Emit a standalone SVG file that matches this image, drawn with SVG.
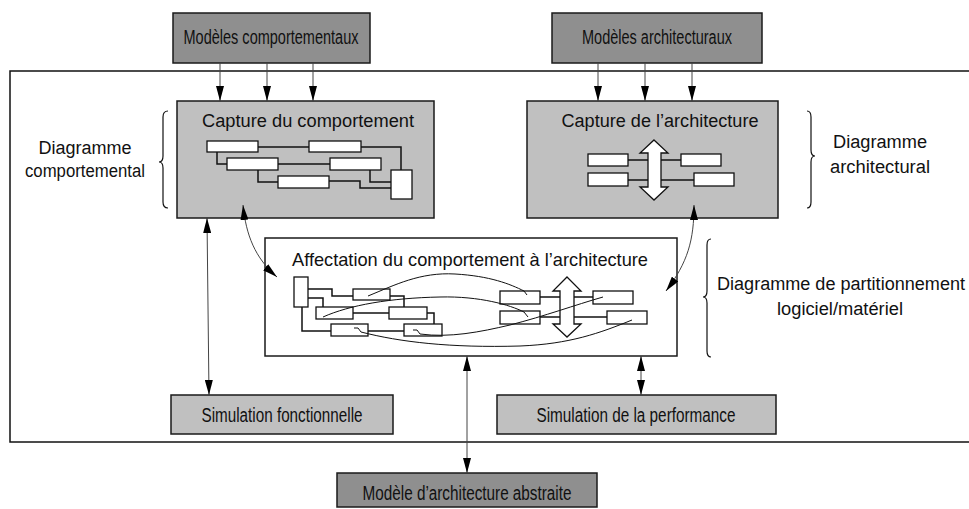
<svg xmlns="http://www.w3.org/2000/svg" width="969" height="509" viewBox="0 0 969 509">
<style>
text{font-family:"Liberation Sans",Arial,sans-serif;font-size:18px;fill:#111;text-anchor:middle}
.big{font-size:20px}
.dark{fill:#8f8f8f;stroke:#1a1a1a;stroke-width:1.5}
.light{fill:#c0c0c0;stroke:#1a1a1a;stroke-width:1.5}
.white{fill:#fff;stroke:#1a1a1a;stroke-width:1.5}
.sr{fill:#fff;stroke:#111;stroke-width:1.3}
.wire{fill:none;stroke:#111;stroke-width:1.5}
.thin{fill:none;stroke:#111;stroke-width:1}
.blk{fill:#fff;stroke:#111;stroke-width:1.3}
.conn{fill:none;stroke:#444;stroke-width:1}
.brace{fill:none;stroke:#111;stroke-width:1.2}
</style>
<defs>
<marker id="ah" markerUnits="userSpaceOnUse" markerWidth="15" markerHeight="8" refX="15" refY="4" orient="auto-start-reverse">
<path d="M0,0 L15,4 L0,8 z" fill="#000"/>
</marker>
</defs>
<rect x="10" y="71" width="970" height="371" fill="none" stroke="#111" stroke-width="1.5"/>
<g id="modeles-comportementaux">
<rect class="dark" x="173" y="13" width="197" height="50"/>
<text class="big" x="271" y="44" textLength="175" lengthAdjust="spacingAndGlyphs">Modèles comportementaux</text>
</g>
<g id="modeles-architecturaux">
<rect class="dark" x="552" y="13" width="210" height="50"/>
<text class="big" x="657" y="44" textLength="150" lengthAdjust="spacingAndGlyphs">Modèles architecturaux</text>
</g>
<g id="capture-comportement">
<rect class="light" x="177" y="101" width="257" height="117"/>
<text x="308" y="127" textLength="212" lengthAdjust="spacingAndGlyphs">Capture du comportement</text>
<polyline class="wire" points="258,147 309,147"/>
<polyline class="wire" points="361,147 401,147 401,170"/>
<polyline class="wire" points="217,152 217,164 227,164"/>
<polyline class="wire" points="278,164 330,164"/>
<polyline class="wire" points="258,170 258,182 278,182"/>
<polyline class="wire" points="370,170 370,182 391,182"/>
<polyline class="wire" points="329,181 360,181 360,188 391,188"/>
<rect class="sr" x="207" y="141" width="51" height="11"/>
<rect class="sr" x="309" y="141" width="52" height="11"/>
<rect class="sr" x="227" y="158" width="51" height="12"/>
<rect class="sr" x="330" y="158" width="51" height="12"/>
<rect class="sr" x="278" y="176" width="51" height="12"/>
<rect class="sr" x="391" y="170" width="21" height="29"/>
</g>
<g id="capture-architecture">
<rect class="light" x="527" y="101" width="251" height="117"/>
<text x="660" y="127" textLength="197" lengthAdjust="spacingAndGlyphs">Capture de l’architecture</text>
<line class="wire" x1="628" y1="160" x2="648" y2="160"/>
<line class="wire" x1="661" y1="160" x2="681" y2="160"/>
<line class="wire" x1="628" y1="180" x2="648" y2="180"/>
<line class="wire" x1="661" y1="180" x2="694" y2="180"/>
<rect class="sr" x="588" y="154" width="40" height="12"/>
<rect class="sr" x="588" y="173" width="40" height="13"/>
<rect class="sr" x="681" y="154" width="40" height="12"/>
<rect class="sr" x="694" y="173" width="40" height="13"/>
<polygon class="blk" points="654,140 668,153 661,153 661,187 668,187 654,200 640,187 648,187 648,153 640,153"/>
</g>
<g id="affectation">
<rect class="white" x="265" y="238" width="412" height="118"/>
<text x="470" y="266" style="font-size:19px" textLength="356" lengthAdjust="spacingAndGlyphs">Affectation du comportement à l’architecture</text>
<polyline class="wire" points="308,289 332,289 332,296 353,296"/>
<polyline class="wire" points="308,298 323,298 323,307"/>
<polyline class="wire" points="302,307 302,331 331,331"/>
<polyline class="wire" points="390,296 404,296 404,307"/>
<polyline class="wire" points="353,313 389,313"/>
<polyline class="wire" points="427,313 434,313 434,324"/>
<polyline class="wire" points="368,331 404,331"/>
<line class="wire" x1="540" y1="297" x2="560" y2="297"/>
<line class="wire" x1="574" y1="297" x2="593" y2="297"/>
<line class="wire" x1="540" y1="317" x2="560" y2="317"/>
<line class="wire" x1="574" y1="317" x2="607" y2="317"/>
<rect class="sr" x="294" y="277" width="14" height="30"/>
<rect class="sr" x="353" y="289" width="37" height="11"/>
<rect class="sr" x="316" y="307" width="37" height="12"/>
<rect class="sr" x="389" y="307" width="38" height="12"/>
<rect class="sr" x="331" y="324" width="37" height="12"/>
<rect class="sr" x="404" y="324" width="38" height="12"/>
<rect class="sr" x="500" y="291" width="40" height="13"/>
<rect class="sr" x="500" y="311" width="40" height="13"/>
<rect class="sr" x="593" y="291" width="40" height="13"/>
<rect class="sr" x="607" y="311" width="40" height="13"/>
<polygon class="blk" points="567,277 581,291 574,291 574,324 581,324 567,337 553,324 560,324 560,291 553,291"/>
<path class="thin" d="M368,296 C395,285 420,272 455,274 C490,276 510,284 524,291 L527,295"/>
<path class="thin" d="M323,317 C350,305 390,298 440,297 C480,296 510,305 524,312 L528,317"/>
<path class="thin" d="M354,328 L358,328 L361,332 C400,342 450,348 520,346 C570,344 600,333 632,320"/>
<path class="thin" d="M413,330 L417,330 L420,334 C450,338 480,332 510,325 C545,316 575,305 603,297"/>
</g>
<g id="simulation-fonctionnelle">
<rect class="light" x="171" y="395" width="222" height="39"/>
<text class="big" x="282" y="422" textLength="161" lengthAdjust="spacingAndGlyphs">Simulation fonctionnelle</text>
</g>
<g id="simulation-performance">
<rect class="light" x="497" y="395" width="279" height="39"/>
<text class="big" x="636" y="422" textLength="199" lengthAdjust="spacingAndGlyphs">Simulation de la performance</text>
</g>
<g id="modele-abstrait">
<rect class="dark" x="337" y="473" width="260" height="34"/>
<text class="big" x="467" y="500" textLength="209" lengthAdjust="spacingAndGlyphs">Modèle d’architecture abstraite</text>
</g>
<g id="label-comportemental">
<text x="85" y="154" textLength="93" lengthAdjust="spacingAndGlyphs">Diagramme</text>
<text x="85" y="177" textLength="120" lengthAdjust="spacingAndGlyphs">comportemental</text>
<path class="brace" d="M168,111 Q163,111 163,117 L163,156 Q163,162 159,162 Q163,162 163,168 L163,202 Q163,208 168,208"/>
</g>
<g id="label-architectural">
<text x="880" y="148" textLength="94" lengthAdjust="spacingAndGlyphs">Diagramme</text>
<text x="880" y="173" textLength="100" lengthAdjust="spacingAndGlyphs">architectural</text>
<path class="brace" d="M807,111 Q811,111 811,117 L811,150 Q811,156 815,156 Q811,156 811,162 L811,202 Q811,208 807,208"/>
</g>
<g id="label-partitionnement">
<text x="841" y="290" textLength="248" lengthAdjust="spacingAndGlyphs">Diagramme de partitionnement</text>
<text x="840" y="315" textLength="126" lengthAdjust="spacingAndGlyphs">logiciel/matériel</text>
<path class="brace" d="M711,239 Q707,239 707,245 L707,291 Q707,297 703,297 Q707,297 707,303 L707,351 Q707,357 711,357"/>
</g>
<g id="connectors">
<path class="conn" d="M220,63 V101" marker-end="url(#ah)"/>
<path class="conn" d="M267,63 V101" marker-end="url(#ah)"/>
<path class="conn" d="M313,63 V101" marker-end="url(#ah)"/>
<path class="conn" d="M598,63 V101" marker-end="url(#ah)"/>
<path class="conn" d="M645,63 V101" marker-end="url(#ah)"/>
<path class="conn" d="M692,63 V101" marker-end="url(#ah)"/>
<path class="conn" d="M207,218 L209,395" marker-start="url(#ah)" marker-end="url(#ah)"/>
<path class="conn" d="M243,205 C246,235 255,258 277,277" marker-start="url(#ah)" marker-end="url(#ah)"/>
<path class="conn" d="M694,205 C694,240 688,262 666,291" marker-start="url(#ah)" marker-end="url(#ah)"/>
<path class="conn" d="M467,356 V473" marker-start="url(#ah)" marker-end="url(#ah)"/>
<path class="conn" d="M641,356 V395" marker-start="url(#ah)" marker-end="url(#ah)"/>
</g>
</svg>
